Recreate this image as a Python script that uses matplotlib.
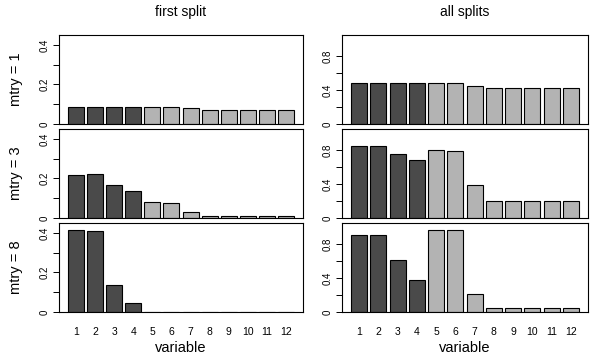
import numpy as np
import matplotlib
matplotlib.use("Agg")
import matplotlib.pyplot as plt

plt.rcParams['font.family'] = ['Liberation Sans', 'DejaVu Sans']

variables = list(range(1, 13))
col_titles = ["first split", "all splits"]
row_labels = ["mtry = 1", "mtry = 3", "mtry = 8"]

# selection frequencies
first_split = [
    [0.084, 0.084, 0.084, 0.084, 0.085, 0.085, 0.080, 0.072, 0.071, 0.071, 0.071, 0.071],
    [0.217, 0.220, 0.168, 0.139, 0.081, 0.078, 0.031, 0.012, 0.012, 0.012, 0.012, 0.012],
    [0.414, 0.410, 0.134, 0.047, 0.002, 0.002, 0.0, 0.0, 0.0, 0.0, 0.0, 0.0],
]
all_splits = [
    [0.478, 0.478, 0.478, 0.478, 0.482, 0.482, 0.451, 0.424, 0.424, 0.423, 0.424, 0.424],
    [0.848, 0.852, 0.757, 0.685, 0.797, 0.793, 0.394, 0.203, 0.203, 0.203, 0.203, 0.203],
    [0.913, 0.906, 0.610, 0.382, 0.965, 0.965, 0.217, 0.047, 0.047, 0.047, 0.047, 0.047],
]
bar_colors = ["#4a4a4a"] * 4 + ["#b3b3b3"] * 8

W, H = 600, 358
fig = plt.figure(figsize=(W / 100, H / 100), dpi=100)

col_x = [(59, 303), (342, 588)]
row_top = [35, 129, 223]
panel_h = 89

# R-style bar positions: width 1, space 0.2
centers = 0.7 + 1.2 * np.arange(12)
xlo, xhi = 0.2, 14.4
pad = 0.04 * (xhi - xlo)

for c, data in enumerate([first_split, all_splits]):
    x0, x1 = col_x[c]
    for r in range(3):
        ax = fig.add_axes([x0 / W, 1 - (row_top[r] + panel_h) / H,
                           (x1 - x0) / W, panel_h / H])
        ax.bar(centers, data[r], width=1.0, color=bar_colors,
               edgecolor="black", linewidth=0.8)
        ax.set_xlim(xlo - pad, xhi + pad)
        if c == 0:
            ax.set_ylim(0, 0.45)
            ax.set_yticks([0, 0.2, 0.4], ["0", "0.2", "0.4"])
            ax.set_yticks([0.1, 0.3], minor=True)
        else:
            ax.set_ylim(0, 1.05)
            ax.set_yticks([0, 0.4, 0.8], ["0", "0.4", "0.8"])
            ax.set_yticks([0.2, 0.6], minor=True)
        ax.tick_params(axis="y", which="both", length=4.5, width=0.7,
                       labelsize=7, pad=2)
        for lab in ax.get_yticklabels():
            lab.set_rotation(90)
            lab.set_va("center")
        for s in ax.spines.values():
            s.set_linewidth(0.8)
        if r == 2:
            ax.set_xticks(centers, [str(v) for v in variables])
            ax.tick_params(axis="x", length=0, labelsize=7.5, pad=11)
            ax.set_xlabel("variable", fontsize=10.5, labelpad=3)
        else:
            ax.set_xticks([])
        if r == 0:
            ax.set_title(col_titles[c], fontsize=10, pad=14)
        if c == 0:
            ax.set_ylabel(row_labels[r], fontsize=10.5, labelpad=12)

fig.savefig("out.png", dpi=100)
